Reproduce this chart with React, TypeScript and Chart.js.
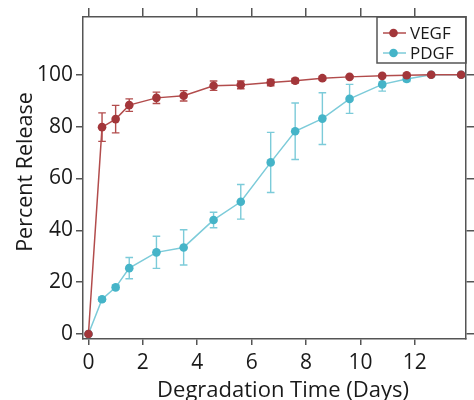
import React, { useEffect, useRef } from "react";
import { Chart, registerables } from "chart.js";

Chart.register(...registerables);

const days = [0, 0.5, 1, 1.5, 2.5, 3.5, 4.6, 5.6, 6.7, 7.6, 8.6, 9.6, 10.8, 11.7, 12.6, 13.7];
const vegf = [0, 79.8, 82.9, 88.3, 91.1, 91.9, 95.8, 96.1, 97.0, 97.7, 98.7, 99.2, 99.6, 99.8, 100, 100];
const vegfErr = [0, 5.5, 5.3, 2.4, 2.2, 2.0, 1.8, 1.5, 1.2, 0.9, 0.7, 0.5, 0.5, 0.4, 0.3, 0.3];
const pdgf = [0, 13.4, 18.0, 25.4, 31.5, 33.4, 44.0, 51.0, 66.2, 78.2, 83.1, 90.7, 96.3, 98.4, 100, 100];
const pdgfErr = [0, 0.8, 0.8, 4.1, 6.2, 6.8, 3.0, 6.7, 11.6, 10.9, 10.0, 5.6, 2.6, 1.0, 0.5, 0.3];
const xTicks = [0, 2, 4, 6, 8, 10, 12];
const yTicks = [0, 20, 40, 60, 80, 100];
const seriesNames = ["VEGF", "PDGF"];
const xTitle = "Degradation Time (Days)";
const yTitle = "Percent Release";

const VEGF_MARK = "#a3363a";
const VEGF_LINE = "#b24c4c";
const PDGF_MARK = "#45b4c8";
const PDGF_LINE = "#7ccbd9";
const FRAME = "#555555";
const TEXT = "#1a1a1a";
const FONT = "'Open Sans', 'Noto Sans', sans-serif";

export default function App() {
  const ref = useRef<HTMLCanvasElement | null>(null);

  useEffect(() => {
    document.body.style.margin = "0";
    const canvas = ref.current;
    if (!canvas) return;

    const errs: number[][] = [vegfErr, pdgfErr];
    const lineCols = [VEGF_LINE, PDGF_LINE];

    const errorBars = {
      id: "errorBars",
      beforeDatasetsDraw(chart: any) {
        const ctx = chart.ctx;
        const xs = chart.scales.x;
        const ys = chart.scales.y;
        ctx.save();
        for (let d = chart.data.datasets.length - 1; d >= 0; d--) {
          const ds = chart.data.datasets[d];
          ctx.strokeStyle = lineCols[d];
          ctx.lineWidth = 1.4;
          ds.data.forEach((p: any, i: number) => {
            const e = errs[d][i];
            if (!e) return;
            const px = xs.getPixelForValue(p.x);
            const top = ys.getPixelForValue(p.y + e);
            const bot = ys.getPixelForValue(p.y - e);
            ctx.beginPath();
            ctx.moveTo(px, top);
            ctx.lineTo(px, bot);
            ctx.moveTo(px - 3.8, top);
            ctx.lineTo(px + 3.8, top);
            ctx.moveTo(px - 3.8, bot);
            ctx.lineTo(px + 3.8, bot);
            ctx.stroke();
          });
        }
        ctx.restore();
      },
    };

    const boxLegendAndTitles = {
      id: "boxLegendAndTitles",
      afterDraw(chart: any) {
        const ctx = chart.ctx;
        const a = chart.chartArea;
        const w = 89;
        const h = 46;
        const x0 = a.right - w;
        const y0 = a.top;
        ctx.save();
        ctx.strokeStyle = FRAME;
        ctx.lineWidth = 1.5;
        ctx.strokeRect(x0, y0, w, h);
        const marks = [VEGF_MARK, PDGF_MARK];
        seriesNames.forEach((name, i) => {
          const cy = y0 + 16 + i * 20;
          ctx.strokeStyle = lineCols[i];
          ctx.lineWidth = 1.5;
          ctx.beginPath();
          ctx.moveTo(x0 + 6, cy);
          ctx.lineTo(x0 + 29, cy);
          ctx.stroke();
          ctx.fillStyle = marks[i];
          ctx.beginPath();
          ctx.arc(x0 + 16.5, cy, 4.3, 0, Math.PI * 2);
          ctx.fill();
          ctx.fillStyle = TEXT;
          ctx.font = `17px ${FONT}`;
          ctx.textBaseline = "middle";
          ctx.textAlign = "left";
          ctx.fillText(name, x0 + 33, cy + 1);
        });

        // axis titles
        ctx.fillStyle = TEXT;
        ctx.textAlign = "center";
        ctx.textBaseline = "alphabetic";
        ctx.font = `22px ${FONT}`;
        ctx.fillText(xTitle, (a.left + a.right) / 2 + 8.5, 396.5);
        ctx.save();
        ctx.translate(32, (a.top + a.bottom) / 2 - 6);
        ctx.rotate(-Math.PI / 2);
        ctx.font = `21.5px ${FONT}`;
        ctx.fillText(yTitle, 0, 0);
        ctx.restore();
        ctx.restore();
      },
    };

    const tickFont = { family: FONT, size: 21 };
    const setTicks = (vals: number[]) => (scale: any) => {
      scale.ticks = vals.map((v) => ({ value: v }));
    };
    const hiddenLabels = { display: true, color: "rgba(0,0,0,0)", font: { size: 8 }, padding: 0 };

    const chart = new Chart(canvas, {
      type: "line",
      data: {
        datasets: [
          {
            label: seriesNames[0],
            data: days.map((d, i) => ({ x: d, y: vegf[i] })),
            borderColor: VEGF_LINE,
            backgroundColor: VEGF_MARK,
            pointBackgroundColor: VEGF_MARK,
            pointBorderWidth: 0,
            pointRadius: 4.3,
            borderWidth: 1.5,
            tension: 0,
          },
          {
            label: seriesNames[1],
            data: days.map((d, i) => ({ x: d, y: pdgf[i] })),
            borderColor: PDGF_LINE,
            backgroundColor: PDGF_MARK,
            pointBackgroundColor: PDGF_MARK,
            pointBorderWidth: 0,
            pointRadius: 4.3,
            borderWidth: 1.5,
            tension: 0,
          },
        ],
      },
      plugins: [errorBars, boxLegendAndTitles],
      options: {
        animation: false,
        responsive: false,
        maintainAspectRatio: false,
        layout: { padding: 0 },
        plugins: {
          legend: { display: false },
          tooltip: { enabled: false },
        },
        scales: {
          x: {
            type: "linear",
            position: "bottom",
            min: -0.2,
            max: 13.88,
            afterBuildTicks: setTicks(xTicks),
            afterFit: (s: any) => {
              s.height = 61;
            },
            border: { display: true, color: FRAME, width: 1.5 },
            grid: { drawOnChartArea: false, drawTicks: true, tickLength: 6, color: FRAME, lineWidth: 1.5 },
            ticks: { color: TEXT, font: tickFont, padding: 5, maxRotation: 0 },
            title: { display: false },
          },
          x2: {
            type: "linear",
            position: "top",
            min: -0.2,
            max: 13.88,
            afterBuildTicks: setTicks(xTicks),
            afterFit: (s: any) => {
              s.height = 17;
            },
            border: { display: true, color: FRAME, width: 1.5 },
            grid: { drawOnChartArea: false, drawTicks: true, tickLength: 9, color: FRAME, lineWidth: 1.5 },
            ticks: hiddenLabels,
          },
          y: {
            type: "linear",
            position: "left",
            min: -1.93,
            max: 122.3,
            afterBuildTicks: setTicks(yTicks),
            afterFit: (s: any) => {
              s.width = 83;
            },
            border: { display: true, color: FRAME, width: 1.5 },
            grid: { drawOnChartArea: false, drawTicks: true, tickLength: 7, color: FRAME, lineWidth: 1.5 },
            ticks: { color: TEXT, font: tickFont, padding: 3 },
            title: { display: false },
          },
          y2: {
            type: "linear",
            position: "right",
            min: -1.93,
            max: 122.3,
            afterBuildTicks: setTicks(yTicks),
            afterFit: (s: any) => {
              s.width = 8;
            },
            border: { display: true, color: FRAME, width: 1.5 },
            grid: { drawOnChartArea: false, drawTicks: true, tickLength: 8, color: FRAME, lineWidth: 1.5 },
            ticks: hiddenLabels,
          },
        },
      },
    } as any);

    return () => chart.destroy();
  }, []);

  return (
    <div style={{ width: 474, height: 400 }}>
      <canvas ref={ref} width={474} height={400} style={{ display: "block", width: 474, height: 400 }} />
    </div>
  );
}
